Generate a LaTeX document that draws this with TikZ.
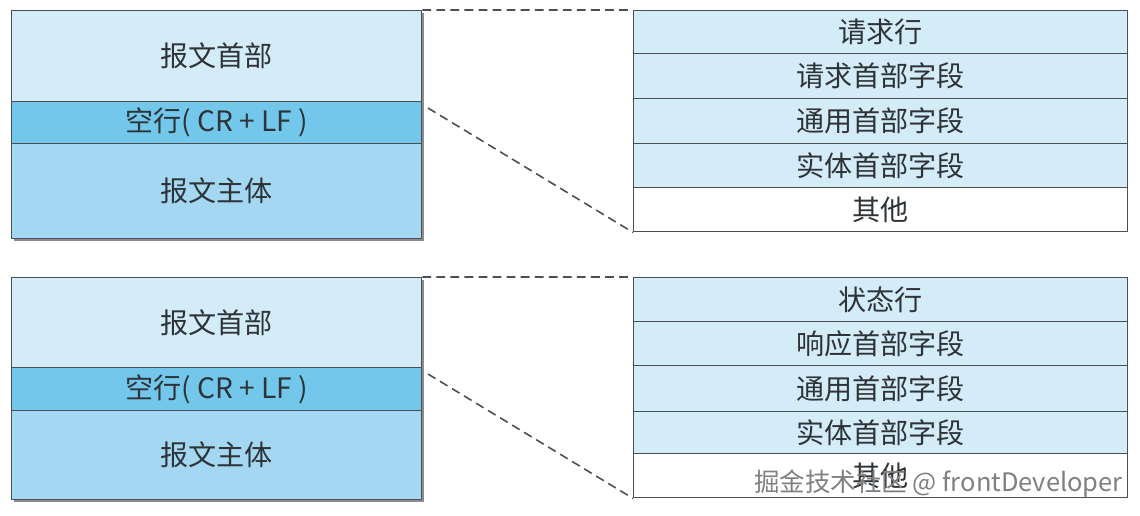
\documentclass[tikz,border=0pt]{standalone}
\usepackage{fontspec}
\newfontfamily\cjk{Noto Sans CJK SC}
\definecolor{chiaro}{HTML}{D4ECF8}
\definecolor{vuota}{HTML}{72C7EA}
\definecolor{corpo}{HTML}{A4D8F2}
\definecolor{bordo}{HTML}{4A4F55}
\definecolor{testo}{HTML}{2E3338}
\begin{document}
\begin{tikzpicture}[x=0.02cm,y=-0.02cm,line join=round,line cap=round,
    font=\cjk\fontsize{16}{19}\selectfont,
    riga/.style={draw=bordo,line width=0.8pt,anchor=north west,inner sep=0pt,text=testo},
    sin/.style={riga,minimum width=8.2cm},
    des/.style={riga,minimum width=9.88cm},
    tratt/.style={draw=bordo,line width=0.9pt,line cap=butt,dash pattern=on 5pt off 3pt},
    ombra/.style={fill=black!45}]

  \useasboundingbox (0,0) rectangle (1140,515);

  % ======================= pannello superiore: richiesta ===================
  \fill[ombra] (14,13) rectangle (424,241);
  \node[sin,fill=chiaro,minimum height=1.82cm] (kopf1)  at (11, 10) {报文首部};
  \node[sin,fill=vuota, minimum height=0.84cm] (leer1)  at (11,101) {空行( CR + LF )};
  \node[sin,fill=corpo, minimum height=1.90cm] (korp1)  at (11,143) {报文主体};

  \node[des,fill=chiaro,minimum height=0.86cm] (r1a) at (633, 10) {请求行};
  \node[des,fill=chiaro,minimum height=0.90cm] (r1b) at (633, 53) {请求首部字段};
  \node[des,fill=chiaro,minimum height=0.90cm] (r1c) at (633, 98) {通用首部字段};
  \node[des,fill=chiaro,minimum height=0.88cm] (r1d) at (633,143) {实体首部字段};
  \node[des,fill=white, minimum height=0.88cm] (r1e) at (633,187) {其他};

  \coordinate (d1) at (428,108);   % appena fuori dall'ombra
  \draw[tratt] (kopf1.north east) -- (r1a.north west)
               (d1) -- (r1e.south west);

  % ======================= pannello inferiore: risposta ====================
  \fill[ombra] (14,280) rectangle (424,502);
  \node[sin,fill=chiaro,minimum height=1.80cm] (kopf2)  at (11,277) {报文首部};
  \node[sin,fill=vuota, minimum height=0.86cm] (leer2)  at (11,367) {空行( CR + LF )};
  \node[sin,fill=corpo, minimum height=1.78cm] (korp2)  at (11,410) {报文主体};

  \node[des,fill=chiaro,minimum height=0.88cm] (r2a) at (633,277) {状态行};
  \node[des,fill=chiaro,minimum height=0.88cm] (r2b) at (633,321) {响应首部字段};
  \node[des,fill=chiaro,minimum height=0.92cm] (r2c) at (633,365) {通用首部字段};
  \node[des,fill=chiaro,minimum height=0.84cm] (r2d) at (633,411) {实体首部字段};
  \node[des,fill=white, minimum height=0.88cm] (r2e) at (633,453) {其他};

  \coordinate (d2) at (428,374);   % appena fuori dall'ombra
  \draw[tratt] (kopf2.north east) -- (r2a.north west)
               (d2) -- (r2e.south west);

  % filigrana
  \node[anchor=east,inner sep=0pt,text=black!50,font=\cjk\fontsize{14.5}{16}\selectfont]
    (filigrana) at (1123,484) {掘金技术社区 @ frontDeveloper};

\end{tikzpicture}
\end{document}
